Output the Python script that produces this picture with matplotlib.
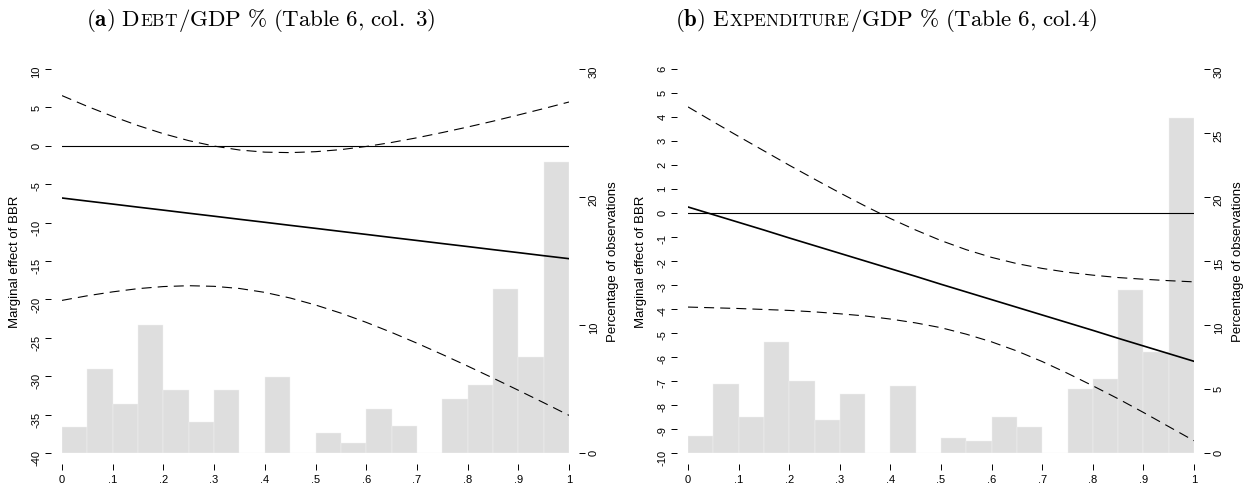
import matplotlib
matplotlib.use('Agg')
from matplotlib import pyplot as plt
from matplotlib.offsetbox import TextArea, HPacker, AnnotationBbox

plt.rcParams['font.family'] = ['Liberation Sans', 'DejaVu Sans']
plt.rcParams['axes.unicode_minus'] = False
plt.rcParams['mathtext.fontset'] = 'cm'

z = [0, .05, .1, .15, .2, .25, .3, .35, .4, .45, .5,
     .55, .6, .65, .7, .75, .8, .85, .9, .95, 1]

# (a) Debt/GDP
debt_me = [-6.80, -7.20, -7.59, -7.99, -8.38, -8.78, -9.17, -9.57, -9.96, -10.36, -10.75,
           -11.15, -11.54, -11.94, -12.33, -12.73, -13.12, -13.52, -13.91, -14.31, -14.70]
debt_hi = [6.53, 5.13, 3.83, 2.63, 1.57, 0.67, -0.04, -0.55, -0.83, -0.89, -0.77,
           -0.50, -0.09, 0.43, 1.04, 1.72, 2.44, 3.20, 4.01, 4.84, 5.70]
debt_lo = [-20.13, -19.53, -19.02, -18.60, -18.33, -18.22, -18.30, -18.58, -19.09, -19.82, -20.73,
           -21.79, -22.99, -24.30, -25.70, -27.17, -28.68, -30.24, -31.83, -33.45, -35.10]

# (b) Expenditure/GDP
exp_me = [0.25, -0.07, -0.39, -0.71, -1.04, -1.36, -1.68, -2.00, -2.32, -2.64, -2.97,
          -3.29, -3.61, -3.93, -4.25, -4.57, -4.89, -5.22, -5.54, -5.86, -6.18]
exp_hi = [4.42, 3.80, 3.19, 2.59, 1.99, 1.41, 0.84, 0.29, -0.23, -0.71, -1.15,
          -1.53, -1.85, -2.11, -2.31, -2.47, -2.59, -2.69, -2.76, -2.82, -2.87]
exp_lo = [-3.92, -3.95, -3.98, -4.02, -4.06, -4.12, -4.20, -4.29, -4.42, -4.58, -4.78,
          -5.05, -5.37, -5.75, -6.19, -6.68, -7.20, -7.74, -8.31, -8.90, -9.49]

# histogram of observations (percent), bins of width .05
bin_left = [0, .05, .1, .15, .2, .25, .3, .35, .4, .45,
            .5, .55, .6, .65, .7, .75, .8, .85, .9, .95]
debt_pct = [2.0, 6.6, 3.8, 10.0, 4.9, 2.4, 4.9, 0, 5.9, 0,
            1.6, 0.8, 3.4, 2.1, 0, 4.2, 5.3, 12.8, 7.5, 22.7]
exp_pct = [1.3, 5.4, 2.8, 8.7, 5.6, 2.6, 4.6, 0, 5.2, 0,
           1.2, 0.9, 2.8, 2.0, 0, 5.0, 5.8, 12.7, 7.9, 26.2]

x_ticks = [0, .1, .2, .3, .4, .5, .6, .7, .8, .9, 1]
x_labels = ['0', '.1', '.2', '.3', '.4', '.5', '.6', '.7', '.8', '.9', '1']


def draw_panel(ax, me, hi, lo, pct, yticks, pct_ticks):
    ax2 = ax.twinx()
    ax2.bar(bin_left, pct, width=0.05, align='edge', color='#dedede',
            edgecolor='#f2f2f2', linewidth=0.3)

    ax.axhline(0, color='black', linewidth=0.8)
    ax.plot(z, me, color='black', linewidth=1.2)
    ax.plot(z, hi, color='black', linewidth=0.8, dashes=(9, 5.5))
    ax.plot(z, lo, color='black', linewidth=0.8, dashes=(9, 5.5))

    # lines above the bars
    ax.set_zorder(ax2.get_zorder() + 1)
    ax.patch.set_visible(False)

    ax.set_xlim(0, 1)
    ax.set_ylim(yticks[0], yticks[-1])
    ax2.set_ylim(pct_ticks[0], pct_ticks[-1])
    ax.set_xticks(x_ticks)
    ax.set_xticklabels(x_labels)
    ax.set_yticks(yticks)
    ax2.set_yticks(pct_ticks)

    for a in (ax, ax2):
        for s in a.spines.values():
            s.set_visible(False)
    ax.spines['left'].set_position(('outward', 8))
    ax.spines['bottom'].set_position(('outward', 8))
    ax2.spines['right'].set_position(('outward', 7.5))

    ax.tick_params(axis='both', length=4.3, width=0.7, labelsize=8, pad=2.5)
    ax.tick_params(axis='y', labelrotation=90)
    ax2.tick_params(axis='y', length=4.3, width=0.7, labelsize=8, pad=2.5, labelrotation=90)

    ax.set_ylabel('Marginal effect of BBR', fontsize=9.5)
    ax2.set_ylabel('Percentage of observations', fontsize=9.5)
    ax.yaxis.set_label_coords(-0.081, 0.5)
    ax2.yaxis.set_label_coords(1.075, 0.5)


def add_title(ax, pieces, xc):
    areas = [TextArea(t, textprops=dict(fontsize=s)) for t, s in pieces]
    box = HPacker(children=areas, align='baseline', pad=0, sep=0)
    ab = AnnotationBbox(box, (xc, 0.959), xycoords='figure fraction',
                        frameon=False, box_alignment=(0.5, 0.5), annotation_clip=False)
    ax.add_artist(ab)


fig = plt.figure(figsize=(12.5, 4.89), dpi=100)
ax_a = fig.add_axes([0.0496, 0.0716, 0.4056, 0.7853])
ax_b = fig.add_axes([0.5504, 0.0716, 0.4048, 0.7853])

draw_panel(ax_a, debt_me, debt_hi, debt_lo, debt_pct,
           [-40, -35, -30, -25, -20, -15, -10, -5, 0, 5, 10], [0, 10, 20, 30])
draw_panel(ax_b, exp_me, exp_hi, exp_lo, exp_pct,
           [-10, -9, -8, -7, -6, -5, -4, -3, -2, -1, 0, 1, 2, 3, 4, 5, 6], [0, 5, 10, 15, 20, 25, 30])

add_title(ax_a, [(r'$\mathbf{(a)}\ \mathrm{D}$', 16.5), (r'$\mathrm{EBT}$', 12.5),
                 (r'$\mathrm{/GDP\ \%\ (Table\ 6{,}\ col{.}\ 3)}$', 16.5)], 261 / 1250)
add_title(ax_b, [(r'$\mathbf{(b)}\ \mathrm{E}$', 16.5), (r'$\mathrm{XPENDITURE}$', 12.5),
                 (r'$\mathrm{/GDP\ \%\ (Table\ 6{,}\ col.}$', 16.5),
                 (r'$\mathrm{4)}$', 16.5)], 886 / 1250)

fig.savefig('out.png', dpi=100)
